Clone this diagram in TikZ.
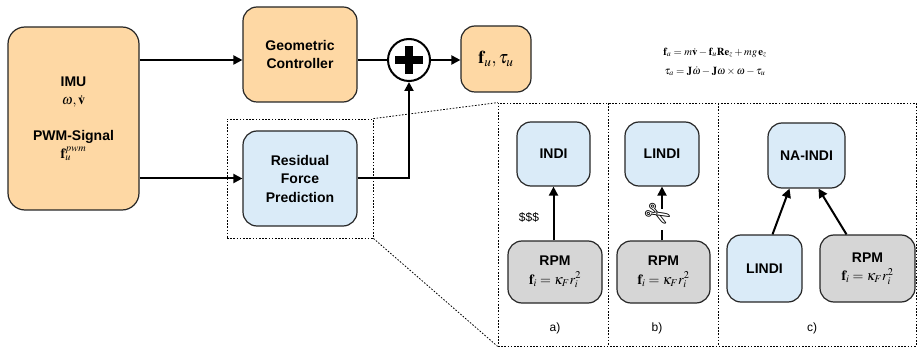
\documentclass[tikz,border=0pt]{standalone}
\usepackage{mathptmx}
\usepackage[no-math]{fontspec}
\setmainfont{Liberation Sans}
\newfontfamily\symfont{DejaVu Sans}
\usetikzlibrary{arrows.meta}
\definecolor{boxorange}{RGB}{254,216,164}
\definecolor{boxblue}{RGB}{218,235,248}
\definecolor{boxgray}{RGB}{214,214,214}
\begin{document}
\begin{tikzpicture}[x=1pt,y=-1pt]
    \tikzstyle{every node}+=[inner sep=0pt]
    \tikzstyle{box}=[draw=black!85, line width=1.2pt, rounded corners=14pt, align=center, font=\bfseries\fontsize{14}{18.5}\selectfont]
    \tikzstyle{orangebox}=[box, fill=boxorange]
    \tikzstyle{bluebox}=[box, fill=boxblue]
    \tikzstyle{graybox}=[box, fill=boxgray]
    \tikzstyle{arr}=[line width=2pt, -{Triangle[length=9pt,width=9pt]}]
    \tikzstyle{dots}=[line width=0.8pt, dash pattern=on 1.6pt off 1.6pt]
    \tikzstyle{caption}=[font=\fontsize{12}{14}\selectfont]
    \useasboundingbox (0,0) rectangle (917,347);
    \node (imu) [orangebox, rounded corners=17pt, minimum width=131, minimum height=183] at (73.5,118.5) {IMU\\$\omega,\dot{\mathbf{v}}$\\[17pt]PWM-Signal\\$\mathbf{f}_u^{pwm}$};
    \node (geo) [orangebox, minimum width=114, minimum height=95] at (300,54.5) {Geometric\\Controller};
    \node (res) [bluebox, minimum width=114, minimum height=95] at (300,178.5) {Residual\\Force\\Prediction};
    \node (plus) [draw, circle, line width=2pt, minimum size=42] at (409,60) {};
    \draw [line width=8pt] ([xshift=-14]plus.center) -- ([xshift=14]plus.center);
    \draw [line width=8pt] ([yshift=-14]plus.center) -- ([yshift=14]plus.center);
    \node (out) [orangebox, minimum width=70, minimum height=66, font=\fontsize{18}{22}\selectfont] at (496,59) {$\mathbf{f}_u,\tau_u$};
    \node (eqs) [align=center, font=\fontsize{10.7}{19}\selectfont] at (715,62) {$\mathbf{f}_a=m\dot{\mathbf{v}}-\mathbf{f}_u\mathbf{R}\mathbf{e}_z+mg\,\mathbf{e}_z$\\$\tau_a=\mathbf{J}\dot{\omega}-\mathbf{J}\omega\times\omega-\tau_u$};
    \draw [arr] (imu.east |- plus) -- (geo.west |- plus);
    \draw [arr] (imu.east |- res) -- (res.west);
    \draw [line width=2pt] (geo.east |- plus) -- (plus.west);
    \draw [arr] (res.east) -| (plus.south);
    \draw [arr] (plus.east) -- (out.west |- plus);
    \node (sel) [dots, draw, minimum width=146, minimum height=119] at (300,178.5) {};
    \node (zoom) [dots, draw, minimum width=418, minimum height=243] at (707,224.5) {};
    \draw [dots] (sel.north east) -- (zoom.north west);
    \draw [dots] (sel.south east) -- (zoom.south west);
    \draw [dots] (608,103) -- (608,346);
    \draw [dots] (718,103) -- (718,346);
    \node (indi) [bluebox, minimum width=73, minimum height=64] at (553.5,154) {INDI};
    \node (rpma) [graybox, minimum width=94, minimum height=62] at (555,272) {RPM\\$\mathbf{f}_i=\kappa_F r_i^2$};
    \draw [arr] (rpma.north -| indi) -- (indi.south);
    \node (cost) [caption] at (529,217) {\$\$\$};
    \node (lindib) [bluebox, minimum width=74, minimum height=64] at (662,154) {LINDI};
    \node (rpmb) [graybox, minimum width=93, minimum height=62] at (663.5,272) {RPM\\$\mathbf{f}_i=\kappa_F r_i^2$};
    \node (cut) [font=\symfont\fontsize{30}{30}\selectfont, rotate=-30] at (657,216) {✄};
    \draw [line width=2pt] (rpmb.north -| lindib) -- ++(0,-10);
    \draw [arr] (lindib.south |- 0,209) -- (lindib.south);
    \node (naindi) [bluebox, minimum width=77, minimum height=65] at (806.5,155.5) {NA-INDI};
    \node (lindic) [bluebox, minimum width=75, minimum height=67] at (764.5,268.5) {LINDI};
    \node (rpmc) [graybox, minimum width=95, minimum height=67] at (867.5,268.5) {RPM\\$\mathbf{f}_i=\kappa_F r_i^2$};
    \draw [arr] ([xshift=8]lindic.north) -- ([xshift=-17]naindi.south);
    \draw [arr] ([xshift=-21]rpmc.north) -- ([xshift=12]naindi.south);
    \node (capa) [caption] at (555,328) {a)};
    \node (capb) [caption] at (657,328) {b)};
    \node (capc) [caption] at (812,328) {c)};
\end{tikzpicture}
\end{document}
